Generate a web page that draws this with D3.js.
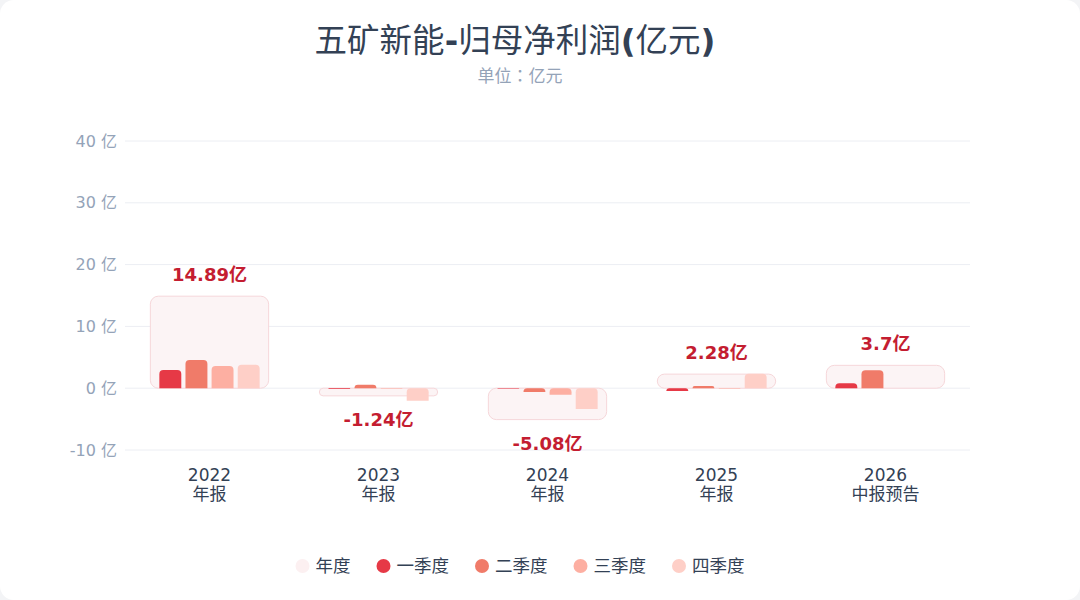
<!DOCTYPE html>
<html>
<head>
<meta charset="utf-8">
<script src="https://cdn.jsdelivr.net/npm/d3@7"></script>
<style>
  html, body { margin: 0; padding: 0; background: #f3f4f6; }
  svg { display: block; font-family: "DejaVu Sans", "Noto Sans CJK SC", sans-serif; }
</style>
</head>
<body>
<svg id="chart" width="1080" height="600"></svg>
<script>
// data
const years = ["2022", "2023", "2024", "2025", "2026"]
const periods = ["年报", "年报", "年报", "年报", "中报预告"]
const annual = [14.89, -1.24, -5.08, 2.28, 3.7]
const q1 = [2.95, 0.02, -0.05, -0.47, 0.8]
const q2 = [4.55, 0.55, -0.6, 0.35, 2.9]
const q3 = [3.6, -0.1, -1.05, 0.05, null]
const q4 = [3.79, -2.05, -3.38, 2.35, null]
const yTicks = [-10, 0, 10, 20, 30, 40]
const seriesNames = ["年度", "一季度", "二季度", "三季度", "四季度"]
const quarterColors = ["#e63946", "#f07b69", "#fdafa2", "#fecfc7"]

const svg = d3.select("#chart")
const W = 1080, H = 600

svg.append("rect")
    .attr("width", W).attr("height", H)
    .attr("rx", 14)
    .attr("fill", "#ffffff")

// title: CJK regular, ascii marks bold
const title = svg.append("text")
    .attr("x", 515).attr("y", 52)
    .attr("text-anchor", "middle")
    .attr("font-size", 32.5)
    .attr("fill", "#334155")
const titleParts = [["五矿新能", 400], ["-", 700], ["归母净利润", 400], ["(", 700], ["亿元", 400], [")", 700]]
titleParts.forEach(p => {
    title.append("tspan").attr("font-weight", p[1]).text(p[0])
})

const sub = svg.append("text")
    .attr("x", 520).attr("y", 82)
    .attr("text-anchor", "middle")
    .attr("font-size", 17)
    .attr("fill", "#94a3b8")
sub.append("tspan").text("单位")
sub.append("tspan").attr("font-family", "Noto Sans CJK TC").text("：")
sub.append("tspan").text("亿元")

const x = d3.scaleBand().domain(years).range([125, 970]).padding(0)
const y = d3.scaleLinear().domain([-10, 40]).range([450, 141])

// grid + y labels
svg.append("g").selectAll("line")
    .data(yTicks)
    .enter()
    .append("line")
    .attr("x1", 125).attr("x2", 970)
    .attr("y1", d => y(d)).attr("y2", d => y(d))
    .attr("stroke", "#eceef3")
    .attr("stroke-width", 1)

svg.append("g").selectAll("text")
    .data(yTicks)
    .enter()
    .append("text")
    .attr("x", 117)
    .attr("y", d => y(d))
    .attr("dy", "0.35em")
    .attr("text-anchor", "end")
    .attr("font-size", 16)
    .attr("fill", "#94a3b8")
    .text(d => d + " 亿")

// x labels
const xl = svg.append("g")
years.forEach((yr, i) => {
    const cx = x(yr) + x.bandwidth() / 2
    xl.append("text")
        .attr("x", cx).attr("y", 481)
        .attr("text-anchor", "middle")
        .attr("font-size", 17)
        .attr("fill", "#334155")
        .text(yr)
    xl.append("text")
        .attr("x", cx).attr("y", 500)
        .attr("text-anchor", "middle")
        .attr("font-size", 17)
        .attr("fill", "#334155")
        .text(periods[i])
})

// path with rounded corners on screen-top only
function topRounded(x0, y0, w, h, r) {
    r = Math.min(r, w / 2, h)
    return `M${x0},${y0 + h}V${y0 + r}Q${x0},${y0} ${x0 + r},${y0}` +
        `H${x0 + w - r}Q${x0 + w},${y0} ${x0 + w},${y0 + r}V${y0 + h}Z`
}

const boxPad = x.bandwidth() * 0.15
const q = d3.scaleBand().domain([0, 1, 2, 3]).paddingInner(0.16).paddingOuter(0)
const quarters = [q1, q2, q3, q4]

const bars = svg.append("g")
years.forEach((yr, i) => {
    const bx = x(yr) + boxPad
    const bw = x.bandwidth() - boxPad * 2
    const v = annual[i]
    const top = Math.min(y(v), y(0))
    const h = Math.abs(y(v) - y(0))

    bars.append("rect")
        .attr("x", bx).attr("y", top)
        .attr("width", bw).attr("height", h)
        .attr("rx", Math.min(8, h / 2))
        .attr("fill", "#fcf4f5")
        .attr("stroke", "#f6d7da")
        .attr("stroke-width", 1)

    q.range([bx + 9, bx + bw - 9])
    quarters.forEach((arr, k) => {
        const qv = arr[i]
        if (qv === null) return
        const qt = Math.min(y(qv), y(0))
        const qh = Math.max(Math.abs(y(qv) - y(0)), 0.6)
        bars.append("path")
            .attr("d", topRounded(q(k), qt, q.bandwidth(), qh, 4))
            .attr("fill", quarterColors[k])
    })

    bars.append("text")
        .attr("x", bx + bw / 2)
        .attr("y", v >= 0 ? y(v) - 15 : y(v) + 30)
        .attr("text-anchor", "middle")
        .attr("font-size", 18)
        .attr("font-weight", "bold")
        .attr("fill", "#c41d31")
        .text(v + "亿")
})

// legend
const legendColors = ["#fcf0f1"].concat(quarterColors)
const lg = svg.append("g")
let lx = 0
seriesNames.forEach((name, i) => {
    const g = lg.append("g").attr("transform", `translate(${lx},0)`)
    g.append("circle").attr("cx", 7).attr("cy", 0).attr("r", 7).attr("fill", legendColors[i])
    const t = g.append("text")
        .attr("x", 20).attr("y", 0).attr("dy", "0.35em")
        .attr("font-size", 17.5)
        .attr("fill", "#334155")
        .text(name)
    const tw = t.node().getComputedTextLength()
    lx += 20 + tw + 26
})
const totalW = lx - 26
lg.attr("transform", `translate(${520 - totalW / 2},566)`)
</script>
</body>
</html>
